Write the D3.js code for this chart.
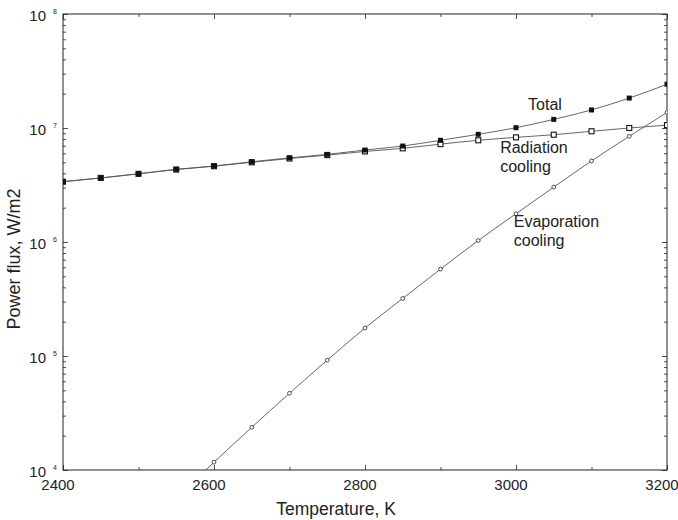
<!DOCTYPE html>
<html>
<head>
<meta charset="utf-8">
<script src="https://cdn.jsdelivr.net/npm/d3@7"></script>
<style>
  body { margin: 0; background: #fff; }
  svg { display: block; font-family: "Liberation Sans", Arial, sans-serif; }
</style>
</head>
<body>
<svg id="chart" width="678" height="520"></svg>
<script>
// ---- data ----
const temperatures = [2400, 2450, 2500, 2550, 2600, 2650, 2700, 2750, 2800, 2850, 2900, 2950, 3000, 3050, 3100, 3150, 3200];
const totalFlux = [3.38e6, 3.64e6, 3.97e6, 4.34e6, 4.64e6, 5.06e6, 5.47e6, 5.87e6, 6.41e6, 6.95e6, 7.8e6, 8.8e6, 1.006e7, 1.19e7, 1.44e7, 1.83e7, 2.42e7];
const radiationFlux = [3.38e6, 3.65e6, 3.96e6, 4.32e6, 4.62e6, 5.0e6, 5.4e6, 5.78e6, 6.23e6, 6.63e6, 7.22e6, 7.8e6, 8.28e6, 8.73e6, 9.36e6, 1.0e7, 1.06e7];
const evapTemperatures = [2550, 2600, 2650, 2700, 2750, 2800, 2850, 2900, 2950, 3000, 3050, 3100, 3150, 3200];
const evaporationFlux = [5.7e3, 1.17e4, 2.37e4, 4.71e4, 9.2e4, 1.76e5, 3.2e5, 5.78e5, 1.03e6, 1.77e6, 3.03e6, 5.14e6, 8.45e6, 1.37e7];
const xTickLabels = [2400, 2600, 2800, 3000, 3200];
const yTickExponents = [4, 5, 6, 7, 8];
const annotations = [
  { lines: ["Total"], t: 3016, v: 1.44e7 },
  { lines: ["Radiation", "cooling"], t: 2979, v: 6.04e6 },
  { lines: ["Evaporation", "cooling"], t: 2997, v: 1.36e6 }
];

// ---- layout ----
const svg = d3.select("#chart");
const m = { left: 63, right: 11, top: 14, bottom: 50 };
const W = 678, H = 520;
const x = d3.scaleLinear().domain([2400, 3200]).range([m.left, W - m.right]);
const y = d3.scaleLog().domain([1e4, 1e8]).range([H - m.bottom, m.top]);
const ink = "#222", lineInk = "#555";

svg.append("defs").append("clipPath").attr("id", "plotclip")
  .append("rect").attr("x", m.left).attr("y", m.top)
  .attr("width", x.range()[1] - m.left).attr("height", y.range()[0] - m.top);

// axes with inward ticks
const xMinor = d3.range(2400, 3201, 100);
const axBottom = svg.append("g").attr("transform", `translate(0,${y.range()[0]})`)
  .call(d3.axisTop(x).tickValues(xMinor).tickSize(3).tickFormat(""));
const axTop = svg.append("g").attr("transform", `translate(0,${m.top})`)
  .call(d3.axisBottom(x).tickValues(xMinor).tickSize(3).tickFormat(""));
[axBottom, axTop].forEach(g => {
  g.selectAll(".tick line").attr("stroke", ink).attr("stroke-width", 0.8)
    .attr("y2", d => (d % 200 === 0 ? 5 : 3) * (g === axBottom ? -1 : 1));
});
const yTicks = [];
for (let e = 4; e < 8; e++) for (let k = 1; k < 10; k++) yTicks.push(k * Math.pow(10, e));
yTicks.push(1e8);
const axLeft = svg.append("g").attr("transform", `translate(${m.left},0)`)
  .call(d3.axisRight(y).tickValues(yTicks).tickSize(3).tickFormat(""));
const axRight = svg.append("g").attr("transform", `translate(${x.range()[1]},0)`)
  .call(d3.axisLeft(y).tickValues(yTicks).tickSize(3).tickFormat(""));
[axLeft, axRight].forEach(g => {
  g.selectAll(".tick line").attr("stroke", ink).attr("stroke-width", 0.8)
    .attr("x2", d => {
      const isMajor = Math.abs(Math.log10(d) - Math.round(Math.log10(d))) < 1e-9;
      return (isMajor ? 5 : 3) * (g === axLeft ? 1 : -1);
    });
});
svg.selectAll(".domain").remove();
svg.append("rect").attr("x", m.left).attr("y", m.top)
  .attr("width", x.range()[1] - m.left).attr("height", y.range()[0] - m.top)
  .attr("fill", "none").attr("stroke", ink).attr("stroke-width", 1);

// tick labels
svg.append("g").selectAll("text").data(xTickLabels).join("text")
  .attr("x", d => x(d) - 5).attr("y", y.range()[0] + 20)
  .attr("text-anchor", "middle").attr("font-size", 15).attr("fill", ink).text(d => d);
const yl = svg.append("g").selectAll("g").data(yTickExponents).join("g")
  .attr("transform", d => `translate(0,${y(Math.pow(10, d))})`);
yl.append("text").attr("x", 46).attr("y", 7).attr("text-anchor", "end")
  .attr("font-size", 15).attr("fill", ink).text("10");
yl.append("text").attr("x", 53).attr("y", 0).attr("font-size", 7).attr("fill", ink).text(d => d);

// axis titles
svg.append("text").attr("x", 336).attr("y", 515).attr("text-anchor", "middle")
  .attr("font-size", 17.5).attr("fill", ink).text("Temperature, K");
svg.append("text").attr("transform", "translate(20,259) rotate(-90)").attr("text-anchor", "middle")
  .attr("font-size", 18).attr("fill", ink).text("Power flux, W/m2");

// lines
const plot = svg.append("g").attr("clip-path", "url(#plotclip)");
const line = d3.line().x(d => x(d[0])).y(d => y(d[1])).curve(d3.curveMonotoneX);
const radPts = temperatures.map((t, i) => [t, radiationFlux[i]]);
const totPts = temperatures.map((t, i) => [t, totalFlux[i]]);
const evPts = evapTemperatures.map((t, i) => [t, evaporationFlux[i]]);
[radPts, totPts, evPts].forEach(pts => {
  plot.append("path").datum(pts).attr("d", line)
    .attr("fill", "none").attr("stroke", lineInk).attr("stroke-width", 0.9);
});

// markers
const s = 5;
plot.append("g").selectAll("rect").data(radPts).join("rect")
  .attr("x", d => x(d[0]) - s / 2).attr("y", d => y(d[1]) - s / 2)
  .attr("width", s).attr("height", s).attr("fill", "#fff").attr("stroke", "#111").attr("stroke-width", 1.1);
plot.append("g").selectAll("rect").data(totPts).join("rect")
  .attr("x", d => x(d[0]) - s / 2).attr("y", d => y(d[1]) - s / 2)
  .attr("width", s).attr("height", s).attr("fill", "#111");
plot.append("g").selectAll("circle").data(evPts).join("circle")
  .attr("cx", d => x(d[0])).attr("cy", d => y(d[1])).attr("r", 1.9)
  .attr("fill", "#fff").attr("stroke", "#222").attr("stroke-width", 0.8);

// annotations
annotations.forEach(a => {
  const t = svg.append("text").attr("font-size", 16).attr("fill", ink)
    .attr("x", x(a.t)).attr("y", y(a.v));
  a.lines.forEach((l, i) => {
    t.append("tspan").attr("x", x(a.t)).attr("dy", i === 0 ? 0 : 19).text(l);
  });
});
</script>
</body>
</html>
